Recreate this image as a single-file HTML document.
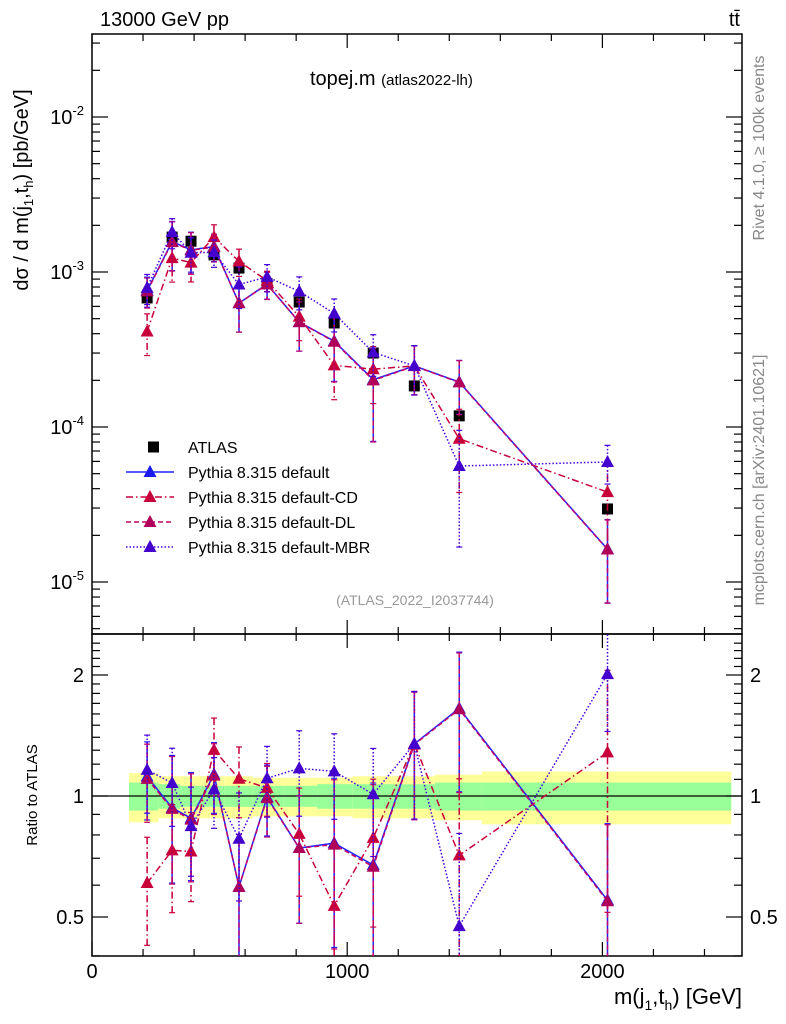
<!DOCTYPE html>
<html><head><meta charset="utf-8"><style>
html,body{margin:0;padding:0;background:#fff;width:786px;height:1024px;overflow:hidden;}
svg{display:block;font-family:"Liberation Sans",sans-serif;}
</style></head><body>
<svg id="chart" width="786" height="1024" viewBox="0 0 786 1024" xmlns="http://www.w3.org/2000/svg">
<defs>
<clipPath id="clipMain"><rect x="92" y="34" width="650" height="600"/></clipPath>
<clipPath id="clipRatio"><rect x="92" y="634" width="650" height="322"/></clipPath>
</defs>
<g id="bands" clip-path="url(#clipRatio)"></g>
<g id="axes"></g>
<g id="mainMarks" clip-path="url(#clipMain)"></g>
<g id="ratioMarks" clip-path="url(#clipRatio)"></g>
<g id="labels">
<text x="100" y="26" font-size="20">13000 GeV pp</text>
<text x="740" y="26" font-size="20" text-anchor="end">tt̄</text>
<text x="310" y="85" font-size="20">topej.m <tspan font-size="15">(atlas2022-lh)</tspan></text>
<text x="415" y="605" font-size="14" fill="#999" text-anchor="middle">(ATLAS_2022_I2037744)</text>
<text transform="translate(764,148) rotate(-90)" font-size="16" fill="#888" text-anchor="middle">Rivet 4.1.0, ≥ 100k events</text>
<text transform="translate(764,480) rotate(-90)" font-size="16" fill="#888" text-anchor="middle">mcplots.cern.ch [arXiv:2401.10621]</text>
<text transform="translate(28,190) rotate(-90)" font-size="20" text-anchor="middle">dσ / d m(j<tspan font-size="13" dy="5">1</tspan><tspan dy="-5">,t</tspan><tspan font-size="13" dy="5">h</tspan><tspan dy="-5">) [pb/GeV]</tspan></text>
<text transform="translate(37,795) rotate(-90)" font-size="15" text-anchor="middle">Ratio to ATLAS</text>
<text x="742" y="1004" font-size="22" text-anchor="end">m(j<tspan font-size="14" dy="6">1</tspan><tspan dy="-6">,t</tspan><tspan font-size="14" dy="6">h</tspan><tspan dy="-6">) [GeV]</tspan></text>
</g>
<g id="legend"></g>
</svg>
<script>
const xVals = [216,314,388,478,576,686,812,949,1102,1263,1439,2020];
const atlasVals = [6.8e-4,1.68e-3,1.58e-3,1.29e-3,1.06e-3,8.4e-4,6.4e-4,4.69e-4,3.0e-4,1.84e-4,1.18e-4,2.96e-5];
const atlasErr = [0.05,0.05,0.05,0.05,0.05,0.05,0.05,0.05,0.06,0.06,0.07,0.08];
const defaultVals = [7.6e-4,1.57e-3,1.39e-3,1.46e-3,6.3e-4,8.35e-4,4.75e-4,3.58e-4,2.02e-4,2.48e-4,1.95e-4,1.63e-5];
const defaultErr = [0.22,0.35,0.3,0.2,0.35,0.2,0.35,0.45,0.6,0.35,0.38,0.55];
const cdVals = [4.13e-4,1.23e-3,1.15e-3,1.68e-3,1.17e-3,8.8e-4,5.15e-4,2.5e-4,2.36e-4,2.48e-4,8.4e-5,3.8e-5];
const cdErr = [0.3,0.3,0.25,0.2,0.2,0.15,0.3,0.4,0.4,0.35,0.55,0.6];
const dlVals = [7.5e-4,1.56e-3,1.38e-3,1.45e-3,6.3e-4,8.3e-4,4.75e-4,3.55e-4,2.0e-4,2.47e-4,1.94e-4,1.62e-5];
const dlErr = [0.22,0.35,0.3,0.2,0.35,0.2,0.35,0.45,0.6,0.35,0.38,0.55];
const mbrVals = [7.9e-4,1.81e-3,1.33e-3,1.34e-3,8.3e-4,9.3e-4,7.5e-4,5.4e-4,3.03e-4,2.48e-4,5.6e-5,5.95e-5];
const mbrErr = [0.22,0.22,0.25,0.2,0.3,0.2,0.24,0.24,0.3,0.35,0.7,0.28];
const binEdges = [145,260,345,430,520,630,752,882,1020,1183,1344,1528,2505];
const totalBand = [0.14,0.12,0.12,0.12,0.12,0.11,0.11,0.11,0.12,0.12,0.13,0.15];
const statBand = [0.08,0.07,0.06,0.06,0.06,0.06,0.06,0.07,0.07,0.07,0.08,0.08];
const mainTickExps = [-2,-3,-4,-5];
const ratioTickLabels = ["0.5","1","2"];
const xTickLabels = ["0","1000","2000"];

const NS="http://www.w3.org/2000/svg";
const X=v=>92+v*0.2552;
const Y=v=>117+(-2-Math.log10(v))*155;
const R=r=>796-Math.log2(r)*121;
function mk(tag,attrs,parent){const e=document.createElementNS(NS,tag);for(const k in attrs)e.setAttribute(k,attrs[k]);parent.appendChild(e);return e;}
const axes=document.getElementById('axes'),bands=document.getElementById('bands'),mm=document.getElementById('mainMarks'),rm=document.getElementById('ratioMarks'),lg=document.getElementById('legend');

for(let i=0;i<totalBand.length;i++){
  const x0=X(binEdges[i]),x1=X(binEdges[i+1]);
  const y=mk('rect',{x:x0,y:R(1+totalBand[i]),width:x1-x0,height:R(1-totalBand[i])-R(1+totalBand[i]),fill:'#ffff99'},bands);
  
  
  const g=mk('rect',{x:x0,y:R(1+statBand[i]),width:x1-x0,height:R(1-statBand[i])-R(1+statBand[i]),fill:'#99ff99'},bands);
  
  
}
const one=mk('line',{x1:92,x2:742,y1:R(1),y2:R(1),stroke:'#000','stroke-width':1.2},bands);



for(const f of [[34,634],[634,956]]){
  const r=mk('rect',{x:92,y:f[0],width:650,height:f[1]-f[0],fill:'none',stroke:'#000','stroke-width':1.5},axes);
  
  
}
function tick(x1,y1,x2,y2){mk('line',{x1,y1,x2,y2,stroke:'#000','stroke-width':1.2},axes);}
for(let v=0;v<=2500;v+=200){
  if(v%1000===0)continue;
  const x=X(v);for(const [a,b] of [[34,1],[634,1],[634,-1],[956,-1]]) tick(x,a,x,a+b*7);
}
for(let v=0;v<=2000;v+=1000){const x=X(v);for(const [a,b] of [[34,1],[634,1],[634,-1],[956,-1]]) tick(x,a,x,a+b*14);}
xTickLabels.forEach((t,i)=>{const el=mk('text',{x:X(i*1000),y:978,'font-size':20,'text-anchor':'middle'},axes);el.textContent=t;

});
for(let e=-6;e<=-1;e++){for(let m=1;m<10;m++){const v=m*Math.pow(10,e);const y=Y(v);if(y<34||y>634)continue;const L=m===1?16:8;tick(92,y,92+L,y);tick(742,y,742-L,y);}}
mainTickExps.forEach(e=>{const el=mk('text',{x:84,y:Y(Math.pow(10,e))+7,'font-size':20,'text-anchor':'end'},axes);
el.innerHTML='10<tspan font-size="13" dy="-9">'+e+'</tspan>';

});
for(let k=3;k<=24;k++){const r=k/10;const y=R(r);if(y<634||y>956)continue;const L=(k===5||k===10||k===20)?16:8;tick(92,y,92+L,y);tick(742,y,742-L,y);}
ratioTickLabels.forEach(t=>{const y=R(parseFloat(t))+7;
const a=mk('text',{x:84,y,'font-size':20,'text-anchor':'end'},axes);a.textContent=t;


const b=mk('text',{x:750,y,'font-size':20},axes);b.textContent=t;

});

function tri(x,y,col,parent){return mk('path',{d:`M${x},${y-7} L${x+6.5},${y+5} L${x-6.5},${y+5} Z`,fill:col},parent);}
const series=[
 {name:'default',vals:defaultVals,err:defaultErr,col:'#1a1aee',lc:'#2020ff',dash:'',label:'Pythia 8.315 default'},
 {name:'default-cd',vals:cdVals,err:cdErr,col:'#c8003a',lc:'#c8003a',dash:'7,3,1.5,3',label:'Pythia 8.315 default-CD'},
 {name:'default-dl',vals:dlVals,err:dlErr,col:'#b0005a',lc:'#c0006a',dash:'5,3',label:'Pythia 8.315 default-DL'},
 {name:'default-mbr',vals:mbrVals,err:mbrErr,col:'#4400cc',lc:'#4400dd',dash:'1.5,2',label:'Pythia 8.315 default-MBR'}
];
function drawSeries(s,parent,yf,vals){
  const g=mk('g',{},parent);
  
  
  const pts=vals.map((v,i)=>X(xVals[i])+','+yf(v)).join(' ');
  const pl=mk('polyline',{points:pts,fill:'none',stroke:s.lc,'stroke-width':1.5,'stroke-dasharray':s.dash},g);
  
  
  vals.forEach((v,i)=>{const x=X(xVals[i]);const y1=yf(v*(1+s.err[i])),y2=yf(Math.max(v*(1-s.err[i]),1e-9));
    mk('line',{x1:x,x2:x,y1,y2,stroke:s.lc,'stroke-width':1.5,'stroke-dasharray':s.dash},g);
    mk('line',{x1:x-3,x2:x+3,y1,y2:y1,stroke:s.lc,'stroke-width':1.2},g);
    mk('line',{x1:x-3,x2:x+3,y1:y2,y2:y2,stroke:s.lc,'stroke-width':1.2},g);
    const t=tri(x,yf(v),s.col,g);
    
    });
}
const ag=mk('g',{},mm);


atlasVals.forEach((v,i)=>{const x=X(xVals[i]);mk('line',{x1:x,x2:x,y1:Y(v*(1+atlasErr[i])),y2:Y(v*(1-atlasErr[i])),stroke:'#000','stroke-width':1.5},ag);
 const r=mk('rect',{x:x-5.5,y:Y(v)-5.5,width:11,height:11,fill:'#000'},ag);
 
 });
series.forEach(s=>{drawSeries(s,mm,Y,s.vals);drawSeries(s,rm,R,s.vals.map((v,i)=>v/atlasVals[i]));});

const lys=[447,472,497,522,547];
const sq=mk('rect',{x:148,y:lys[0]-5.5,width:11,height:11,fill:'#000'},lg);


const lt=mk('text',{x:188,y:lys[0]+6,'font-size':16},lg);lt.textContent='ATLAS';


series.forEach((s,i)=>{const y=lys[i+1];
 mk('line',{x1:126,x2:174,y1:y,y2:y,stroke:s.lc,'stroke-width':1.5,'stroke-dasharray':s.dash},lg);
 tri(150,y,s.col,lg);
 const t=mk('text',{x:188,y:y+6,'font-size':16},lg);t.textContent=s.label;
 
 });
</script>
</body></html>
